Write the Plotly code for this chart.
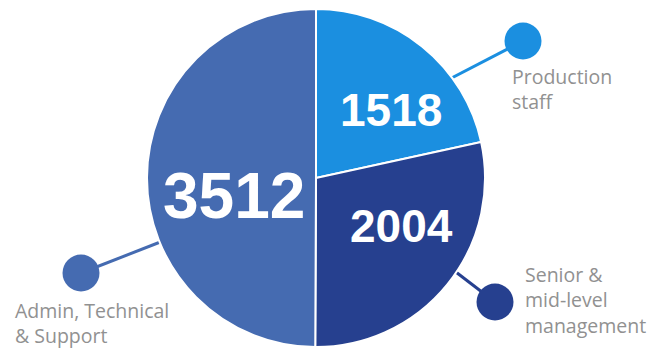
import plotly.graph_objects as go

# Headcount by staff group
groups = ["Production staff", "Senior & mid-level management", "Admin, Technical & Support"]
headcount = [1518, 2004, 3512]
colors = ["#1b8fe0", "#26408f", "#456bb1"]

# Callout text, wrapped onto lines
callout_text = ["Production<br>staff",
                "Senior &<br>mid-level<br>management",
                "Admin, Technical<br>& Support"]

W, H = 672, 349
cx, cy, r = 316, 178, 169

fig = go.Figure()

fig.add_trace(go.Pie(
    labels=groups,
    values=headcount,
    sort=False,
    direction="clockwise",
    rotation=0,
    marker=dict(colors=colors, line=dict(color="white", width=2)),
    textinfo="none",
    hoverinfo="label+value",
    showlegend=False,
    domain=dict(x=[(cx - r) / W, (cx + r) / W], y=[1 - (cy + r) / H, 1 - (cy - r) / H]),
))

# Invisible pixel-space axes used for callouts
fig.add_trace(go.Scatter(x=[0, W], y=[0, H], mode="markers",
                         marker=dict(opacity=0), hoverinfo="skip", showlegend=False))

# Value labels inside slices
value_pos = [(391, 110, 46), (401, 226, 46), (234, 196, 64)]
for val, (x, y, fs) in zip(headcount, value_pos):
    fig.add_annotation(x=x, y=y, xref="x", yref="y", text=f"<b>{val}</b>", showarrow=False,
                       font=dict(family="Liberation Sans, Arial", size=fs, color="white"),
                       xanchor="center", yanchor="middle")

# Callout connectors and dots
callouts = [
    dict(start=(440, 84), dot=(523, 41)),
    dict(start=(448, 266), dot=(495, 302)),
    dict(start=(168, 239), dot=(81, 273)),
]
dot_r = 18.5
for c, col in zip(callouts, colors):
    (x0, y0), (x1, y1) = c["start"], c["dot"]
    fig.add_shape(type="line", x0=x0, y0=y0, x1=x1, y1=y1, xref="x", yref="y",
                  line=dict(color=col, width=3), layer="below")
    fig.add_shape(type="circle", x0=x1 - dot_r, x1=x1 + dot_r, y0=y1 - dot_r, y1=y1 + dot_r,
                  xref="x", yref="y", fillcolor=col, line=dict(width=0), layer="above")

# Callout text blocks: (left x, top y)
text_pos = [(511, 61.5), (524, 259.5), (14, 295.5)]
for txt, (x, y) in zip(callout_text, text_pos):
    fig.add_annotation(x=x, y=y, xref="x", yref="y", text=txt, showarrow=False, align="left",
                       font=dict(family="Open Sans", size=19.5, color="#919191"),
                       xanchor="left", yanchor="top", borderpad=0)

fig.update_xaxes(range=[0, W], visible=False, domain=[0, 1], fixedrange=True)
fig.update_yaxes(range=[H, 0], visible=False, domain=[0, 1], fixedrange=True)
fig.update_layout(width=W, height=H, margin=dict(l=0, r=0, t=0, b=0),
                  paper_bgcolor="white", plot_bgcolor="rgba(0,0,0,0)", showlegend=False)

fig.write_html("out.html")
